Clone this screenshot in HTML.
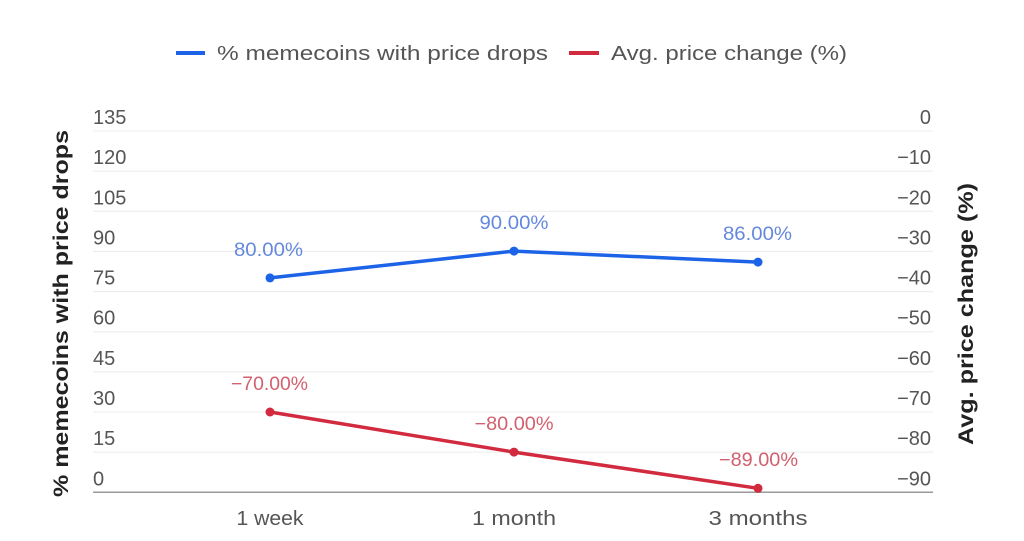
<!DOCTYPE html>
<html>
<head>
<meta charset="utf-8">
<style>
html,body{margin:0;padding:0;background:#fff;}
svg{display:block;}
text{font-family:"Liberation Sans",sans-serif;}
</style>
</head>
<body>
<svg width="1024" height="541" viewBox="0 0 1024 541" xmlns="http://www.w3.org/2000/svg">
  <rect width="1024" height="541" fill="#fff"/>
  <!-- legend -->
  <line x1="176" y1="53" x2="205" y2="53" stroke="#1c63e8" stroke-width="4"/>
  <text x="217" y="60" font-size="20" fill="#555" textLength="331" lengthAdjust="spacingAndGlyphs">% memecoins with price drops</text>
  <line x1="569" y1="53" x2="599" y2="53" stroke="#d22a3e" stroke-width="4"/>
  <text x="611" y="60" font-size="20" fill="#555" textLength="236" lengthAdjust="spacingAndGlyphs">Avg. price change (%)</text>

  <!-- gridlines -->
  <g stroke="#ececec" stroke-width="1">
    <line x1="93" y1="131" x2="933" y2="131"/>
    <line x1="93" y1="171.1" x2="933" y2="171.1"/>
    <line x1="93" y1="211.3" x2="933" y2="211.3"/>
    <line x1="93" y1="251.4" x2="933" y2="251.4"/>
    <line x1="93" y1="291.6" x2="933" y2="291.6"/>
    <line x1="93" y1="331.7" x2="933" y2="331.7"/>
    <line x1="93" y1="371.8" x2="933" y2="371.8"/>
    <line x1="93" y1="412" x2="933" y2="412"/>
    <line x1="93" y1="452.1" x2="933" y2="452.1"/>
  </g>
  <line x1="93" y1="492.3" x2="933" y2="492.3" stroke="#9a9a9a" stroke-width="1.5"/>

  <!-- left ticks -->
  <g font-size="20" fill="#555">
    <text x="93" y="124">135</text>
    <text x="93" y="164.1">120</text>
    <text x="93" y="204.3">105</text>
    <text x="93" y="244.4">90</text>
    <text x="93" y="284.6">75</text>
    <text x="93" y="324.7">60</text>
    <text x="93" y="364.8">45</text>
    <text x="93" y="405">30</text>
    <text x="93" y="445.1">15</text>
    <text x="93" y="485.3">0</text>
  </g>
  <!-- right ticks -->
  <g font-size="20" fill="#555" text-anchor="end">
    <text x="931" y="124">0</text>
    <text x="931" y="164.1">−10</text>
    <text x="931" y="204.3">−20</text>
    <text x="931" y="244.4">−30</text>
    <text x="931" y="284.6">−40</text>
    <text x="931" y="324.7">−50</text>
    <text x="931" y="364.8">−60</text>
    <text x="931" y="405">−70</text>
    <text x="931" y="445.1">−80</text>
    <text x="931" y="485.3">−90</text>
  </g>

  <!-- axis titles -->
  <text transform="translate(68,497) rotate(-90)" font-size="21" font-weight="bold" fill="#222" textLength="367" lengthAdjust="spacingAndGlyphs">% memecoins with price drops</text>
  <text transform="translate(973,445) rotate(-90)" font-size="21" font-weight="bold" fill="#222" textLength="262" lengthAdjust="spacingAndGlyphs">Avg. price change (%)</text>

  <!-- x labels -->
  <g font-size="20" fill="#555" text-anchor="middle">
    <text x="270" y="525" textLength="67" lengthAdjust="spacingAndGlyphs">1 week</text>
    <text x="514" y="525" textLength="84" lengthAdjust="spacingAndGlyphs">1 month</text>
    <text x="758" y="525" textLength="99" lengthAdjust="spacingAndGlyphs">3 months</text>
  </g>

  <!-- blue series -->
  <polyline points="270,277.9 514,251.1 758,262.1" fill="none" stroke="#1c63e8" stroke-width="3.5" stroke-linejoin="round"/>
  <g fill="#1c63e8">
    <circle cx="270" cy="277.9" r="4.5"/>
    <circle cx="514" cy="251.1" r="4.5"/>
    <circle cx="758" cy="262.1" r="4.5"/>
  </g>
  <g font-size="19" fill="#6488dc" text-anchor="middle">
    <text x="268.5" y="256" textLength="69" lengthAdjust="spacingAndGlyphs">80.00%</text>
    <text x="514" y="229" textLength="69" lengthAdjust="spacingAndGlyphs">90.00%</text>
    <text x="757.5" y="240" textLength="69" lengthAdjust="spacingAndGlyphs">86.00%</text>
  </g>

  <!-- red series -->
  <polyline points="270,412 514,452.1 758,488.3" fill="none" stroke="#d22a3e" stroke-width="3.5" stroke-linejoin="round"/>
  <g fill="#d22a3e">
    <circle cx="270" cy="412" r="4.5"/>
    <circle cx="514" cy="452.1" r="4.5"/>
    <circle cx="758" cy="488.3" r="4.5"/>
  </g>
  <g font-size="19" fill="#d2606e" text-anchor="middle">
    <text x="269.5" y="390" textLength="77" lengthAdjust="spacingAndGlyphs">−70.00%</text>
    <text x="514" y="430" textLength="79" lengthAdjust="spacingAndGlyphs">−80.00%</text>
    <text x="758.5" y="466" textLength="79" lengthAdjust="spacingAndGlyphs">−89.00%</text>
  </g>
</svg>
</body>
</html>
